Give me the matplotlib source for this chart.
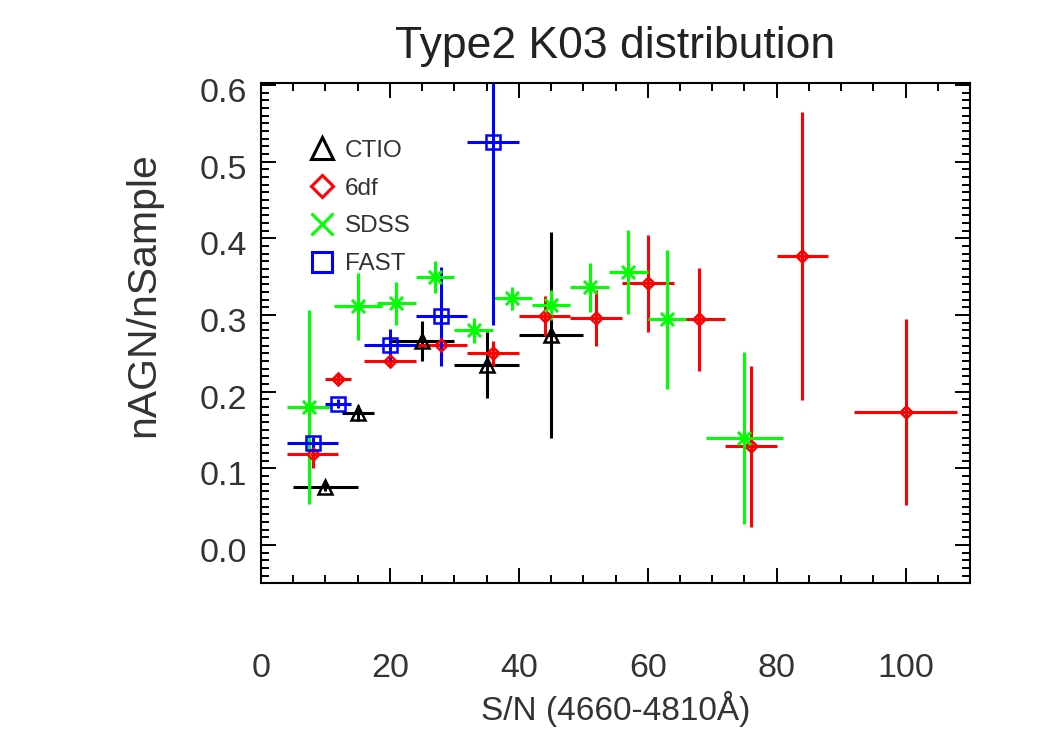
import matplotlib
matplotlib.use('Agg')
import numpy as np
import matplotlib.pyplot as plt
from matplotlib.lines import Line2D
from matplotlib.ticker import MultipleLocator, FormatStrFormatter
from matplotlib.transforms import ScaledTranslation

plt.rcParams['font.family'] = ['Liberation Sans', 'DejaVu Sans']

# CTIO
ctio_x = [10, 15, 25, 35, 45]
ctio_xerr = [5, 2.5, 5, 5, 5]
ctio_y = [0.076, 0.172, 0.266, 0.235, 0.274]
ctio_yerr = [0.006, 0.011, 0.026, 0.043, 0.134]

# 6df
sixdf_x = [8, 12, 20, 28, 36, 44, 52, 60, 68, 76, 84, 100]
sixdf_xerr = [4, 2, 4, 4, 4, 4, 4, 4, 4, 4, 4, 8]
sixdf_y = [0.118, 0.216, 0.240, 0.261, 0.250, 0.298, 0.296, 0.341, 0.294, 0.129, 0.377, 0.173]
sixdf_yerr = [0.018, 0.008, 0.008, 0.012, 0.016, 0.026, 0.036, 0.063, 0.067, 0.105, 0.188, 0.121]

# SDSS
sdss_x = [7.5, 15, 21, 27, 33, 39, 45, 51, 57, 63, 75]
sdss_xerr = [3.5, 3.75, 3, 3, 3, 3, 3, 3, 3, 3, 6]
sdss_y = [0.180, 0.311, 0.315, 0.349, 0.280, 0.322, 0.313, 0.336, 0.356, 0.294, 0.139]
sdss_yerr = [0.126, 0.044, 0.028, 0.021, 0.016, 0.015, 0.020, 0.032, 0.055, 0.091, 0.112]

# FAST
fast_x = [8, 12, 20, 28, 36]
fast_xerr = [4, 2, 4, 4, 4]
fast_y = [0.133, 0.184, 0.261, 0.298, 0.525]
fast_yerr = [0.008, 0.006, 0.020, 0.065, 0.238]

labels = ['CTIO', '6df', 'SDSS', 'FAST']
txt = '#333333'

fig = plt.figure(figsize=(10.5, 7.5), dpi=100)
ax = fig.add_axes([0.2486, 0.2223, 0.6752, 0.6666])

eb = dict(linestyle='none', capsize=0, elinewidth=2.2, mew=1.8, mfc='none')
ax.errorbar(ctio_x, ctio_y, xerr=ctio_xerr, yerr=ctio_yerr, marker='^', ms=9.5,
            color='black', **eb)
ax.errorbar(sixdf_x, sixdf_y, xerr=sixdf_xerr, yerr=sixdf_yerr, marker='D', ms=6.5,
            color='red', **eb)
ax.errorbar(sdss_x, sdss_y, xerr=sdss_xerr, yerr=sdss_yerr, marker=(8, 2, 0), ms=13,
            color='#00ff00', **eb)
ax.errorbar(fast_x, fast_y, xerr=fast_xerr, yerr=fast_yerr, marker='s', ms=10,
            color='blue', **eb)

ax.set_xlim(0, 110)
ax.set_ylim(-0.05, 0.602)
ax.xaxis.set_major_locator(MultipleLocator(20))
ax.xaxis.set_minor_locator(MultipleLocator(5))
ax.yaxis.set_major_locator(MultipleLocator(0.1))
ax.yaxis.set_minor_locator(MultipleLocator(0.01))
ax.yaxis.set_major_formatter(FormatStrFormatter('%.1f'))

for s in ax.spines.values():
    s.set_linewidth(1.5)
ax.tick_params(which='both', direction='in', top=True, right=True, width=1.4,
               color='black', labelcolor=txt, labelsize=24.5)
ax.tick_params(which='major', length=10.5)
ax.tick_params(which='minor', length=5.5)
ax.tick_params(axis='x', which='major', pad=50)
ax.tick_params(axis='y', which='major', pad=10.2)

# IDL puts the y labels a little below the tick
shift = ScaledTranslation(0, -0.05, fig.dpi_scale_trans)
for lab in ax.get_yticklabels():
    lab.set_transform(lab.get_transform() + shift)

ax.set_title('Type2 K03 distribution', fontsize=32, pad=18, color='#222222')
ax.set_xlabel('S/N (4660-4810Å)', fontsize=24, color=txt)
ax.xaxis.set_label_coords(0.5, -0.215)
ax.set_ylabel('nAGN/nSample', fontsize=29.5, color=txt)
ax.yaxis.set_label_coords(-0.14, 0.577)

handles = [
    Line2D([], [], ls='none', marker='^', ms=16, mfc='none', mec='black', mew=2.2),
    Line2D([], [], ls='none', marker='D', ms=11, mfc='none', mec='red', mew=2.2),
    Line2D([], [], ls='none', marker='x', ms=16, mec='#00ff00', mew=2.2),
    Line2D([], [], ls='none', marker='s', ms=15, mfc='none', mec='blue', mew=2.2),
]
ax.legend(handles, labels, loc='upper left', bbox_to_anchor=(0.072, 0.887),
          frameon=False, fontsize=17.5, handlelength=0.8, handletextpad=0.55,
          labelspacing=0.65, borderpad=0, borderaxespad=0, labelcolor=txt)

fig.savefig('out.png', dpi=100)
